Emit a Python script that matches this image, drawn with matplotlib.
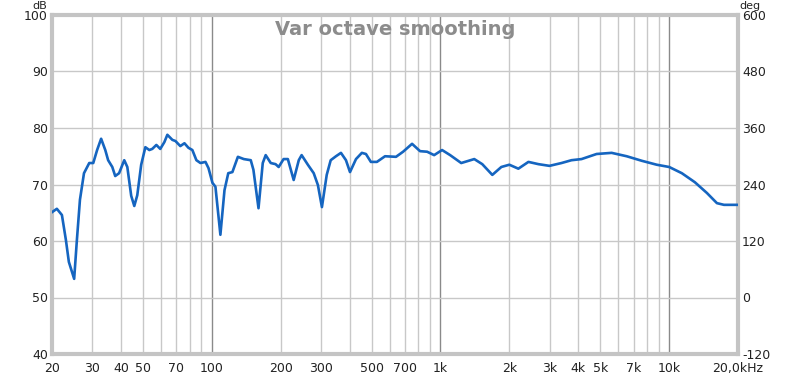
import matplotlib
matplotlib.use("Agg")
import matplotlib.pyplot as plt
import numpy as np

plt.rcParams["axes.unicode_minus"] = False

# frequency response (Hz, dB)
freq = [20, 21.0, 22.1, 23.0, 23.7, 25.0, 25.7, 26.5, 27.6, 29.1, 30.3, 31.5, 32.8,
        34.2, 35.2, 36.7, 37.8, 39.3, 41.4, 42.7, 44.4, 45.8, 47.2, 49.1, 51.2,
        53.3, 54.9, 57.2, 59.5, 62.0, 63.9, 67.2, 69.3, 72.8, 75.9, 79.0, 82.2,
        85.6, 89.2, 93.8, 96.7, 100.6, 103.7, 109, 113.6, 118, 123, 130, 138,
        148, 152, 160, 167, 172, 181, 190, 196, 206, 215, 228, 240, 247, 263,
        279, 291, 303, 318, 331, 349, 367, 386, 402, 427, 453, 472, 496, 527,
        572, 639, 686, 751, 814, 874, 938, 1016, 1102, 1232, 1405, 1523, 1685,
        1845, 2000, 2190, 2424, 2682, 2996, 3382, 3740, 4138, 4816, 5604, 6521,
        7586, 8824, 10000, 11362, 12955, 14623, 16175, 17365, 19800, 20000]
spl = [65.1, 65.7, 64.6, 60.2, 56.3, 53.3, 60.2, 67.3, 72.0, 73.8, 73.8, 76.1, 78.1,
       76.1, 74.3, 73.1, 71.5, 72.0, 74.3, 73.1, 68.0, 66.2, 68.1, 73.5, 76.6,
       76.1, 76.3, 77.0, 76.3, 77.5, 78.8, 77.9, 77.7, 76.8, 77.3, 76.5, 76.1,
       74.3, 73.8, 74.0, 72.9, 70.3, 69.6, 61.1, 69.0, 72.0, 72.2, 74.9, 74.5,
       74.3, 72.6, 65.8, 73.8, 75.2, 73.8, 73.6, 73.1, 74.5, 74.5, 70.8, 74.3,
       75.2, 73.5, 72.0, 69.9, 66.0, 71.7, 74.3, 75.0, 75.6, 74.3, 72.2, 74.5,
       75.6, 75.4, 74.0, 74.0, 75.0, 74.9, 75.8, 77.2, 75.9, 75.8, 75.2, 76.1,
       75.2, 73.8, 74.5, 73.6, 71.7, 73.1, 73.5, 72.8, 74.0, 73.6, 73.3, 73.8,
       74.3, 74.5, 75.4, 75.6, 75.0, 74.2, 73.5, 73.1, 72.0, 70.4, 68.5, 66.7,
       66.4, 66.4, 66.4]

xticks = [20, 30, 40, 50, 70, 100, 200, 300, 500, 700, 1000, 2000, 3000, 4000,
          5000, 7000, 10000, 20000]
xlabels = ["20", "30", "40", "50", "70", "100", "200", "300", "500", "700", "1k",
           "2k", "3k", "4k", "5k", "7k", "10k", "20,0kHz"]
decades = [100, 1000, 10000]

fig = plt.figure(figsize=(8, 3.75), dpi=100)
ax = fig.add_axes([0.065, 0.056, 0.8575, 0.904])

ax.set_xscale("log")
ax.set_xlim(20, 20000)
ax.set_ylim(40, 100)

grid_x = [m * 10**e for e in range(1, 5) for m in range(1, 10)]
for g in grid_x:
    if 20 < g < 20000:
        if g in decades:
            ax.axvline(g, color="#8a8a8a", lw=1, zorder=1)
        else:
            ax.axvline(g, color="#c8c8c8", lw=1, zorder=1)
for v in range(50, 100, 10):
    ax.axhline(v, color="#c8c8c8", lw=1, zorder=1)

ax.plot(freq, spl, color="#1565c0", lw=1.9, zorder=3)

ax.set_xticks(xticks)
ax.set_xticklabels(xlabels)
ax.xaxis.set_minor_locator(matplotlib.ticker.NullLocator())
ax.set_yticks(range(40, 101, 10))
ax.tick_params(length=0, labelsize=9, pad=3, colors="#222222")
ax.tick_params(axis="x", pad=6)

for s in ax.spines.values():
    s.set_color("#c4c4c4")
    s.set_linewidth(3)

ax2 = ax.twinx()
ax2.set_ylim(-120, 600)
ax2.set_yticks(range(-120, 601, 120))
ax2.tick_params(length=0, labelsize=9, pad=3, colors="#222222")
for s in ax2.spines.values():
    s.set_visible(False)

ax.text(0.5, 0.985, "Var octave smoothing", transform=ax.transAxes, ha="center",
        va="top", fontsize=14, fontweight="bold", color="#8c8c8c")
fig.text(0.05, 0.975, "dB", ha="center", va="baseline", fontsize=8, color="#222222")
fig.text(0.938, 0.975, "deg", ha="center", va="baseline", fontsize=8, color="#222222")

fig.savefig("out.png", dpi=100)
